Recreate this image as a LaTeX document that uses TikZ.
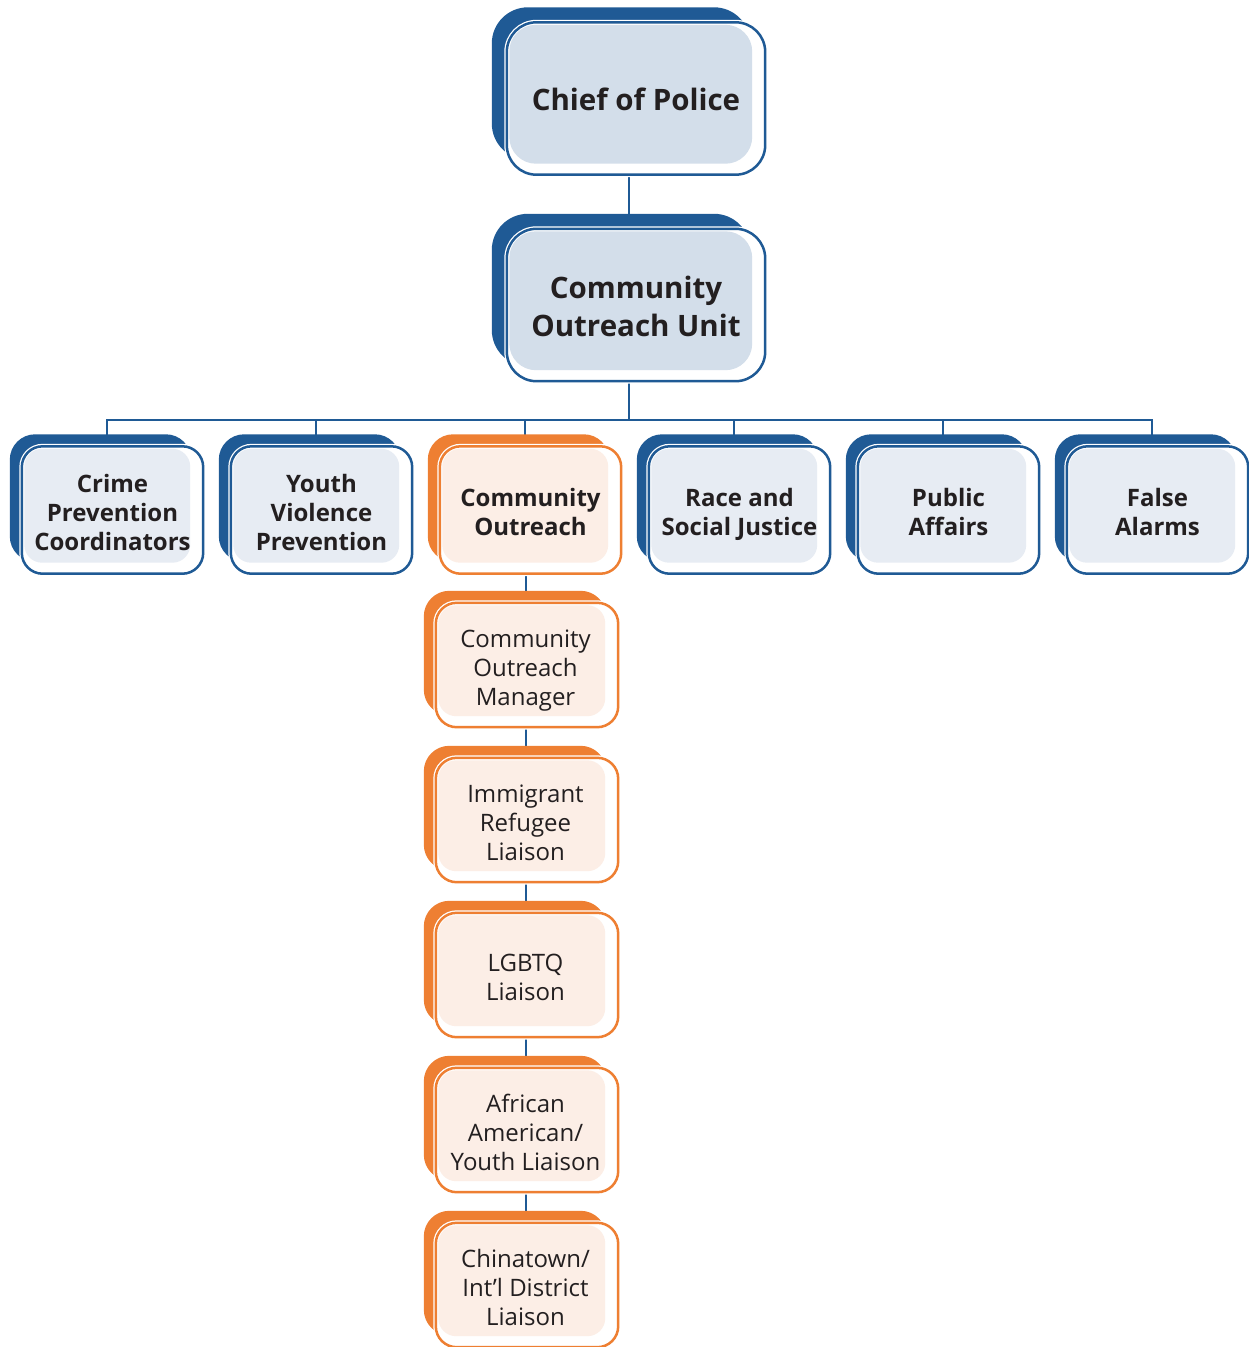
\documentclass[tikz,border=0pt]{standalone}
\usepackage{fontspec}
\setmainfont{Open Sans}
\definecolor{bdark}{HTML}{1F5A95}
\definecolor{blight}{HTML}{D3DEEA}
\definecolor{blighter}{HTML}{E7ECF3}
\definecolor{odark}{HTML}{EE7F32}
\definecolor{olight}{HTML}{FCEEE6}
\definecolor{txt}{HTML}{231F20}
\pgfdeclarelayer{conn}
\pgfdeclarelayer{shapes}
\pgfsetlayers{conn,shapes,main}
\tikzset{
  boxtext/.style={inner sep=0pt, align=center, text=txt},
  bigfont/.style={font=\fontsize{29.5}{38}\selectfont\bfseries, yshift=-1pt},
  rowfont/.style={font=\fontsize{24}{29}\selectfont\bfseries, yshift=-5.5pt,
    execute at end node={\rule[-7pt]{0pt}{0pt}}},
  colfont/.style={font=\fontsize{24}{29}\selectfont, yshift=-6pt, xshift=-1.5pt,
    execute at end node={\rule[-7pt]{0pt}{0pt}}},
  link/.style={draw=bdark, line width=2pt},
}
% #1 name, #2 cx, #3 cy, #4 w, #5 h, #6 offset, #7 dark, #8 light, #9 text style
\newcommand\orgbox[9]{%
  \node[inner sep=0pt, minimum width=#4pt, minimum height=#5pt,
        label={[boxtext,#9]center:\boxtxt}] (#1) at (#2,#3) {};
  \pgfmathsetmacro\rc{0.115*#4}%
  \pgfmathsetmacro\rcb{0.14*#4}%
  \begin{pgfonlayer}{shapes}
    \fill[#7, rounded corners=\rcb pt] ([shift={(-#6,-#6)}]#1.north west) rectangle ([shift={(-#6,-#6)}]#1.south east);
    \draw[white, line width=5pt, rounded corners=\rc pt] (#1.north west) rectangle (#1.south east);
    \fill[white, rounded corners=\rc pt] (#1.north west) rectangle (#1.south east);
    \fill[#8, rounded corners=\rc pt-3pt] ([shift={(2.5,2.5)}]#1.north west) rectangle ([shift={(-13,-11)}]#1.south east);
    \draw[#7, line width=2.5pt, rounded corners=\rc pt] (#1.north west) rectangle (#1.south east);
  \end{pgfonlayer}
}
\begin{document}
\begin{tikzpicture}[x=1pt, y=-1pt]
\useasboundingbox (0,0) rectangle (1249,1347);
% top
\def\boxtxt{Chief of Police}
\orgbox{chief}{636}{98.5}{258}{152}{15}{bdark}{blight}{bigfont}
\def\boxtxt{Community\\Outreach Unit}
\orgbox{cou}{636}{305}{258}{152}{15}{bdark}{blight}{bigfont}
% row
\def\boxtxt{Crime\\Prevention\\Coordinators}
\orgbox{crime}{112.5}{510}{181}{127}{12}{bdark}{blighter}{rowfont}
\def\boxtxt{Youth\\Violence\\Prevention}
\orgbox{youth}{321.5}{510}{181}{127}{12}{bdark}{blighter}{rowfont}
\def\boxtxt{Community\\Outreach}
\orgbox{co}{530.5}{510}{181}{127}{12}{odark}{olight}{rowfont}
\def\boxtxt{Race and\\Social Justice}
\orgbox{race}{739.5}{510}{181}{127}{12}{bdark}{blighter}{rowfont}
\def\boxtxt{Public\\Affairs}
\orgbox{public}{948.5}{510}{181}{127}{12}{bdark}{blighter}{rowfont}
\def\boxtxt{False\\Alarms}
\orgbox{false}{1157.5}{510}{181}{127}{12}{bdark}{blighter}{rowfont}
% column
\def\boxtxt{Community\\Outreach\\Manager}
\orgbox{mgr}{527}{665}{182}{124}{12}{odark}{olight}{colfont}
\def\boxtxt{Immigrant\\Refugee\\Liaison}
\orgbox{imm}{527}{820}{182}{124}{12}{odark}{olight}{colfont}
\def\boxtxt{LGBTQ\\Liaison}
\orgbox{lgbtq}{527}{975}{182}{124}{12}{odark}{olight}{colfont}
\def\boxtxt{African\\American/\\Youth Liaison}
\orgbox{afam}{527}{1130}{182}{124}{12}{odark}{olight}{colfont}
\def\boxtxt{Chinatown/\\Int’l District\\Liaison}
\orgbox{china}{527}{1285}{182}{124}{12}{odark}{olight}{colfont}
% connectors
\begin{pgfonlayer}{conn}
  \coordinate (bus) at (629,420);
  \draw[link] ([xshift=-7pt]chief.south) -- ([xshift=-7pt]cou.north);
  \draw[link] ([xshift=-7pt]cou.south) -- (bus);
  \foreach \n in {crime,youth,co,race,public,false}
    \draw[link] (bus) -| ([xshift=-5.5pt]\n.north);
  \draw[link] ([xshift=-1.5pt]mgr.north) -- ([xshift=-1.5pt]mgr.north |- co.south);
  \draw[link] ([xshift=-1.5pt]imm.north) -- ([xshift=-1.5pt]imm.north |- mgr.south);
  \draw[link] ([xshift=-1.5pt]lgbtq.north) -- ([xshift=-1.5pt]lgbtq.north |- imm.south);
  \draw[link] ([xshift=-1.5pt]afam.north) -- ([xshift=-1.5pt]afam.north |- lgbtq.south);
  \draw[link] ([xshift=-1.5pt]china.north) -- ([xshift=-1.5pt]china.north |- afam.south);
\end{pgfonlayer}
\end{tikzpicture}
\end{document}
